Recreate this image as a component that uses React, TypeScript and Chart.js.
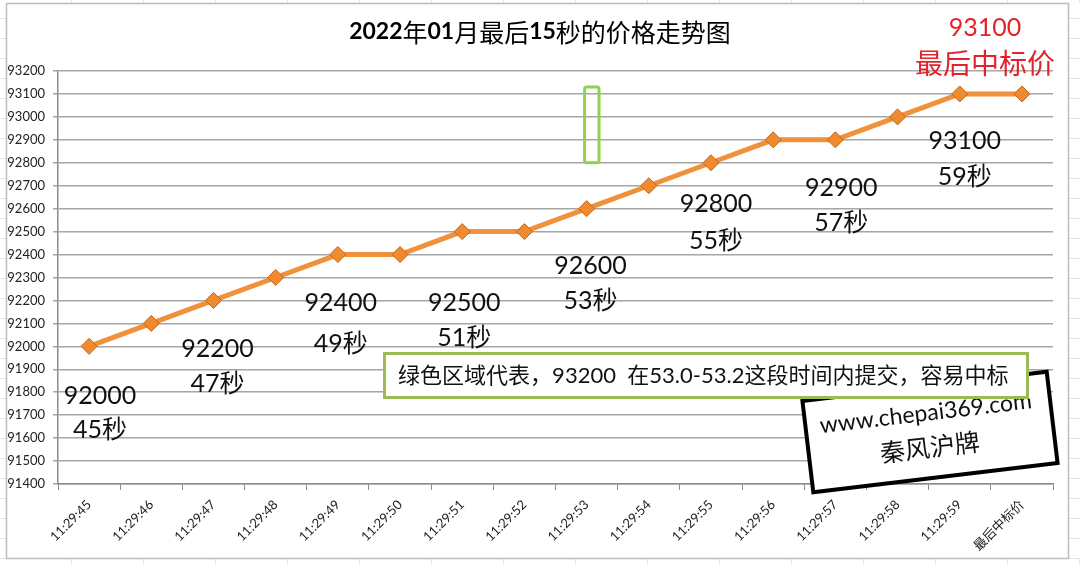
import React, { useEffect, useRef } from 'react';
import { Chart, registerables } from 'chart.js';

Chart.register(...registerables);

// ---------- data ----------
const categories = [
  '11:29:45', '11:29:46', '11:29:47', '11:29:48', '11:29:49', '11:29:50',
  '11:29:51', '11:29:52', '11:29:53', '11:29:54', '11:29:55', '11:29:56',
  '11:29:57', '11:29:58', '11:29:59', '最后中标价',
];
const prices = [
  92000, 92100, 92200, 92300, 92400, 92400, 92500, 92500,
  92600, 92700, 92800, 92900, 92900, 93000, 93100, 93100,
];
const yMin = 91400;
const yMax = 93200;
const yStep = 100;

const titleParts: [string, boolean][] = [
  ['2022', true], ['年', false], ['01', true], ['月最后', false], ['15', true], ['秒的价格走势图', false],
];

// annotated points: index into categories, and second label
const labelIndices = [0, 2, 4, 6, 8, 10, 12, 14];
const labelSeconds = ['45秒', '47秒', '49秒', '51秒', '53秒', '55秒', '57秒', '59秒'];
const finalIndex = 15;
const finalCaption = '最后中标价';

const zoneFrom = 8; // 53.0 s
const zoneTo = 8.2; // 53.2 s
const zoneLow = 92800;
const zoneHigh = 93130;
const noteText = '绿色区域代表，93200  在53.0-53.2这段时间内提交，容易中标';
const stampLines = ['www.chepai369.com', '秦风沪牌'];

// ---------- layout (pixel offsets of hand-placed text) ----------
const LABEL_OFFSETS: [number, number, number][] = [
  [11, 50, 84], [4, 48, 83], [3, 48, 89], [2, 71, 106],
  [4, 57, 92], [5, 41, 78], [6, 48, 83], [5, 47, 83],
];

const CJK = "'Noto Sans CJK SC'";

const annoPlugin = {
  id: 'anno',
  beforeDraw(chart: any) {
    const ctx = chart.ctx as CanvasRenderingContext2D;
    const W = chart.width, H = chart.height;
    ctx.save();
    ctx.fillStyle = '#ffffff';
    ctx.fillRect(0, 0, W, H);
    // faint spreadsheet grid outside the chart frame
    ctx.strokeStyle = '#e4e4e4';
    ctx.lineWidth = 1;
    for (let x = 71; x < W; x += 72) {
      ctx.beginPath(); ctx.moveTo(x + 0.5, 0); ctx.lineTo(x + 0.5, 3); ctx.stroke();
      ctx.beginPath(); ctx.moveTo(x + 0.5, 559); ctx.lineTo(x + 0.5, H); ctx.stroke();
    }
    for (let y = 18; y < H; y += 20) {
      ctx.beginPath(); ctx.moveTo(0, y + 0.5); ctx.lineTo(6, y + 0.5); ctx.stroke();
      ctx.beginPath(); ctx.moveTo(1069, y + 0.5); ctx.lineTo(W, y + 0.5); ctx.stroke();
    }
    // chart frame
    ctx.strokeStyle = '#bdbdbd';
    ctx.lineWidth = 1.5;
    ctx.strokeRect(6.5, 3.5, 1062, 555);
    ctx.restore();
  },
  afterDraw(chart: any) {
    const ctx = chart.ctx as CanvasRenderingContext2D;
    const xs = chart.scales.x;
    const ys = chart.scales.y;
    ctx.save();

    // title
    const fontFor = (bold: boolean) => (bold ? 'bold 23px Lato' : `25px ${CJK}`);
    let total = 0;
    titleParts.forEach(([t, b]) => { ctx.font = fontFor(b); total += ctx.measureText(t).width; });
    let tx = 540 - total / 2;
    ctx.fillStyle = '#000';
    ctx.textBaseline = 'middle';
    ctx.textAlign = 'left';
    titleParts.forEach(([t, b]) => {
      ctx.font = fontFor(b);
      ctx.fillText(t, tx, 32);
      tx += ctx.measureText(t).width;
    });

    // value labels
    ctx.textAlign = 'center';
    ctx.fillStyle = '#111';
    labelIndices.forEach((idx, k) => {
      const px = xs.getPixelForValue(idx);
      const py = ys.getPixelForValue(prices[idx]);
      const [dx, dy1, dy2] = LABEL_OFFSETS[k];
      ctx.font = `25px Lato, ${CJK}`;
      ctx.fillText(String(prices[idx]), px + dx, py + dy1);
      ctx.fillText(labelSeconds[k], px + dx, py + dy2);
    });

    // final price (red)
    {
      const px = xs.getPixelForValue(finalIndex);
      const py = ys.getPixelForValue(prices[finalIndex]);
      ctx.fillStyle = '#e3232c';
      ctx.font = '25px Lato';
      ctx.fillText(String(prices[finalIndex]), px - 37, py - 66);
      ctx.font = `28px ${CJK}`;
      ctx.fillText(finalCaption, px - 37, py - 31);
    }

    // green zone
    {
      const x0 = xs.getPixelForValue(zoneFrom) - 2;
      const x1 = xs.getPixelForValue(zoneTo);
      const y0 = ys.getPixelForValue(zoneHigh);
      const y1 = ys.getPixelForValue(zoneLow);
      ctx.strokeStyle = '#92d050';
      ctx.lineWidth = 3;
      ctx.beginPath();
      ctx.roundRect(x0, y0, x1 - x0, y1 - y0, 2);
      ctx.stroke();
    }

    // rotated stamp box
    {
      ctx.save();
      ctx.translate(930, 432);
      ctx.rotate(-6.8 * Math.PI / 180);
      ctx.fillStyle = '#fff';
      ctx.fillRect(-123, -46, 246, 92);
      ctx.strokeStyle = '#000';
      ctx.lineWidth = 4;
      ctx.strokeRect(-123, -46, 246, 92);
      ctx.fillStyle = '#111';
      ctx.textAlign = 'center';
      ctx.textBaseline = 'middle';
      ctx.font = '23px Lato';
      ctx.fillText(stampLines[0], -2, -19);
      ctx.font = `25px ${CJK}`;
      ctx.fillText(stampLines[1], -2, 15);
      ctx.restore();
    }

    // note box
    {
      ctx.fillStyle = '#fff';
      ctx.fillRect(384, 353, 644, 45);
      ctx.strokeStyle = '#9bbb59';
      ctx.lineWidth = 3;
      ctx.strokeRect(384.5, 353.5, 643, 44);
      ctx.fillStyle = '#111';
      ctx.textAlign = 'left';
      ctx.textBaseline = 'middle';
      ctx.font = `23px Lato, ${CJK}`;
      const w = ctx.measureText(noteText).width;
      const size = Math.min(23, (23 * 611) / w);
      ctx.font = `${size.toFixed(2)}px Lato, ${CJK}`;
      ctx.fillText(noteText, 398, 376);
    }

    ctx.restore();
  },
};

export default function App() {
  const ref = useRef<HTMLCanvasElement | null>(null);

  useEffect(() => {
    if (!ref.current) return;
    const chart = new Chart(ref.current, {
      type: 'line',
      data: {
        labels: categories,
        datasets: [
          {
            data: prices,
            borderColor: '#f0913b',
            borderWidth: 5,
            pointStyle: 'rectRot',
            pointRadius: 8,
            pointBackgroundColor: '#ef8a2e',
            pointBorderColor: '#c4661c',
            pointBorderWidth: 1,
            tension: 0,
          },
        ],
      },
      options: {
        responsive: false,
        animation: false,
        devicePixelRatio: 1,
        layout: { padding: { top: 71, right: 27, left: 0, bottom: 0 } },
        plugins: { legend: { display: false }, tooltip: { enabled: false } },
        scales: {
          x: {
            type: 'category',
            offset: true,
            grid: { offset: true, drawOnChartArea: false, drawTicks: true, tickLength: 6, color: '#8c8c8c', lineWidth: 1 },
            border: { display: true, color: '#8c8c8c', width: 1.5 },
            ticks: {
              autoSkip: false,
              minRotation: 45,
              maxRotation: 45,
              padding: 7,
              color: '#222',
              font: { family: `Lato, ${CJK}`, size: 13 },
            },
            afterFit: (s: any) => { s.height = 80; },
          },
          y: {
            min: yMin,
            max: yMax,
            grid: { color: '#a6a6a6', lineWidth: 1.5, tickLength: 5, drawTicks: true },
            border: { display: true, color: '#8c8c8c', width: 1.5 },
            ticks: {
              stepSize: yStep,
              padding: 8,
              color: '#222',
              font: { family: 'Lato', size: 13 },
              callback: (v: any) => String(v),
            },
            afterFit: (s: any) => { s.width = 58; },
          },
        },
      },
      plugins: [annoPlugin],
    });
    return () => chart.destroy();
  }, []);

  return (
    <div style={{ position: 'absolute', left: 0, top: 0, width: 1080, height: 564, background: '#fff' }}>
      <canvas ref={ref} width={1080} height={564} style={{ display: 'block', width: 1080, height: 564 }} />
    </div>
  );
}
